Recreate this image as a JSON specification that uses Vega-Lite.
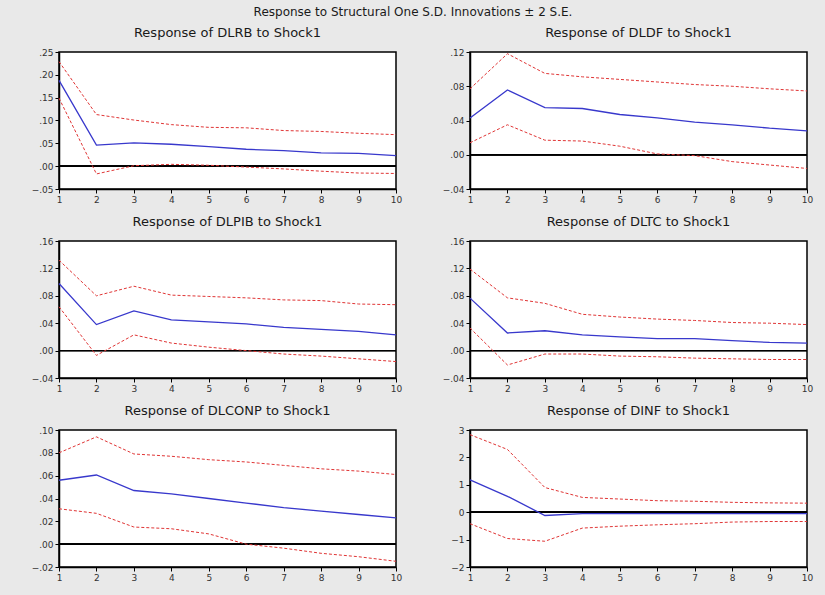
{
  "$schema": "https://vega.github.io/schema/vega-lite/v6.json",
  "autosize": {"type": "pad"},
  "padding": {"left": 30, "top": 6, "right": 12, "bottom": 14},
  "background": "#e9e9e9",
  "bounds": "flush",
  "columns": 2,
  "spacing": {"row": 52, "column": 74},
  "title": {"text": "Response to Structural One S.D. Innovations ± 2 S.E.", "anchor": "middle", "frame": "group", "dx": 354, "fontSize": 12, "fontWeight": "normal", "font": "DejaVu Sans", "color": "#1a1a1a", "offset": 7},
  "config": {
    "font": "DejaVu Sans",
    "view": {"stroke": "#000", "strokeWidth": 1.5, "fill": "white"},
    "title": {"fontSize": 13, "fontWeight": "normal", "color": "#1a1a1a", "offset": 8},
    "axis": {"grid": false, "title": null, "labelFontSize": 9, "labelColor": "#333", "labelOverlap": false, "labelBound": false, "labelFlush": false, "tickColor": "#000", "domainColor": "#000", "domainWidth": 1.5, "tickSize": 4, "labelPadding": 2}
  },
  "datasets": {
    "irf": [
      {"panel": "DLRB", "step": 1, "resp": 0.188, "upper": 0.229, "lower": 0.149},
      {"panel": "DLRB", "step": 2, "resp": 0.046, "upper": 0.113, "lower": -0.017},
      {"panel": "DLRB", "step": 3, "resp": 0.051, "upper": 0.101, "lower": 0.001},
      {"panel": "DLRB", "step": 4, "resp": 0.048, "upper": 0.091, "lower": 0.004},
      {"panel": "DLRB", "step": 5, "resp": 0.043, "upper": 0.085, "lower": 0.002},
      {"panel": "DLRB", "step": 6, "resp": 0.037, "upper": 0.084, "lower": -0.002},
      {"panel": "DLRB", "step": 7, "resp": 0.034, "upper": 0.078, "lower": -0.006},
      {"panel": "DLRB", "step": 8, "resp": 0.029, "upper": 0.076, "lower": -0.011},
      {"panel": "DLRB", "step": 9, "resp": 0.028, "upper": 0.072, "lower": -0.015},
      {"panel": "DLRB", "step": 10, "resp": 0.023, "upper": 0.069, "lower": -0.016},
      {"panel": "DLDF", "step": 1, "resp": 0.043, "upper": 0.077, "lower": 0.014},
      {"panel": "DLDF", "step": 2, "resp": 0.0757, "upper": 0.118, "lower": 0.035},
      {"panel": "DLDF", "step": 3, "resp": 0.055, "upper": 0.095, "lower": 0.017},
      {"panel": "DLDF", "step": 4, "resp": 0.054, "upper": 0.091, "lower": 0.016},
      {"panel": "DLDF", "step": 5, "resp": 0.047, "upper": 0.088, "lower": 0.010},
      {"panel": "DLDF", "step": 6, "resp": 0.043, "upper": 0.085, "lower": 0.001},
      {"panel": "DLDF", "step": 7, "resp": 0.038, "upper": 0.082, "lower": -0.001},
      {"panel": "DLDF", "step": 8, "resp": 0.035, "upper": 0.080, "lower": -0.008},
      {"panel": "DLDF", "step": 9, "resp": 0.031, "upper": 0.077, "lower": -0.012},
      {"panel": "DLDF", "step": 10, "resp": 0.028, "upper": 0.0745, "lower": -0.016},
      {"panel": "DLPIB", "step": 1, "resp": 0.098, "upper": 0.132, "lower": 0.064},
      {"panel": "DLPIB", "step": 2, "resp": 0.038, "upper": 0.080, "lower": -0.007},
      {"panel": "DLPIB", "step": 3, "resp": 0.058, "upper": 0.094, "lower": 0.023},
      {"panel": "DLPIB", "step": 4, "resp": 0.045, "upper": 0.081, "lower": 0.011},
      {"panel": "DLPIB", "step": 5, "resp": 0.042, "upper": 0.079, "lower": 0.005},
      {"panel": "DLPIB", "step": 6, "resp": 0.039, "upper": 0.077, "lower": 0.000},
      {"panel": "DLPIB", "step": 7, "resp": 0.034, "upper": 0.074, "lower": -0.005},
      {"panel": "DLPIB", "step": 8, "resp": 0.031, "upper": 0.073, "lower": -0.008},
      {"panel": "DLPIB", "step": 9, "resp": 0.028, "upper": 0.068, "lower": -0.012},
      {"panel": "DLPIB", "step": 10, "resp": 0.023, "upper": 0.067, "lower": -0.016},
      {"panel": "DLTC", "step": 1, "resp": 0.0766, "upper": 0.119, "lower": 0.033},
      {"panel": "DLTC", "step": 2, "resp": 0.0257, "upper": 0.077, "lower": -0.021},
      {"panel": "DLTC", "step": 3, "resp": 0.029, "upper": 0.069, "lower": -0.005},
      {"panel": "DLTC", "step": 4, "resp": 0.023, "upper": 0.053, "lower": -0.005},
      {"panel": "DLTC", "step": 5, "resp": 0.020, "upper": 0.049, "lower": -0.008},
      {"panel": "DLTC", "step": 6, "resp": 0.0175, "upper": 0.046, "lower": -0.009},
      {"panel": "DLTC", "step": 7, "resp": 0.0175, "upper": 0.044, "lower": -0.011},
      {"panel": "DLTC", "step": 8, "resp": 0.0145, "upper": 0.041, "lower": -0.012},
      {"panel": "DLTC", "step": 9, "resp": 0.012, "upper": 0.040, "lower": -0.013},
      {"panel": "DLTC", "step": 10, "resp": 0.011, "upper": 0.038, "lower": -0.013},
      {"panel": "DLCONP", "step": 1, "resp": 0.056, "upper": 0.080, "lower": 0.031},
      {"panel": "DLCONP", "step": 2, "resp": 0.0606, "upper": 0.094, "lower": 0.027},
      {"panel": "DLCONP", "step": 3, "resp": 0.047, "upper": 0.079, "lower": 0.015},
      {"panel": "DLCONP", "step": 4, "resp": 0.044, "upper": 0.077, "lower": 0.0135},
      {"panel": "DLCONP", "step": 5, "resp": 0.040, "upper": 0.074, "lower": 0.009},
      {"panel": "DLCONP", "step": 6, "resp": 0.036, "upper": 0.072, "lower": 0.000},
      {"panel": "DLCONP", "step": 7, "resp": 0.032, "upper": 0.069, "lower": -0.0035},
      {"panel": "DLCONP", "step": 8, "resp": 0.029, "upper": 0.066, "lower": -0.008},
      {"panel": "DLCONP", "step": 9, "resp": 0.026, "upper": 0.064, "lower": -0.011},
      {"panel": "DLCONP", "step": 10, "resp": 0.023, "upper": 0.061, "lower": -0.015},
      {"panel": "DINF", "step": 1, "resp": 1.18, "upper": 2.83, "lower": -0.42},
      {"panel": "DINF", "step": 2, "resp": 0.58, "upper": 2.29, "lower": -0.96},
      {"panel": "DINF", "step": 3, "resp": -0.12, "upper": 0.90, "lower": -1.06},
      {"panel": "DINF", "step": 4, "resp": -0.05, "upper": 0.54, "lower": -0.58},
      {"panel": "DINF", "step": 5, "resp": -0.05, "upper": 0.48, "lower": -0.51},
      {"panel": "DINF", "step": 6, "resp": -0.05, "upper": 0.42, "lower": -0.46},
      {"panel": "DINF", "step": 7, "resp": -0.05, "upper": 0.40, "lower": -0.42},
      {"panel": "DINF", "step": 8, "resp": -0.05, "upper": 0.36, "lower": -0.36},
      {"panel": "DINF", "step": 9, "resp": -0.05, "upper": 0.34, "lower": -0.34},
      {"panel": "DINF", "step": 10, "resp": -0.05, "upper": 0.33, "lower": -0.34}
    ]
  },
  "concat": [
    {
      "title": "Response of DLRB to Shock1",
      "width": 337, "height": 137,
      "data": {"name": "irf"},
      "transform": [{"filter": "datum.panel === 'DLRB'"}],
      "encoding": {"x": {"field": "step", "type": "quantitative", "scale": {"domain": [1, 10], "nice": false}, "axis": {"values": [1,2,3,4,5,6,7,8,9,10], "tickCount": 20, "format": "d", "labelFlush": false, "labelOverlap": false}}},
      "layer": [
        {"mark": {"type": "rule", "color": "#000", "strokeWidth": 1}, "encoding": {"y": {"datum": 0}, "x": null}},
        {"mark": {"type": "line", "color": "#e03535", "strokeWidth": 1, "strokeDash": [3, 2]}, "encoding": {"y": {"field": "upper", "type": "quantitative", "scale": {"domain": [-0.05, 0.25], "nice": false}, "axis": {"values": [-0.05, 0, 0.05, 0.1, 0.15, 0.2, 0.25], "tickCount": 20, "labelOverlap": false, "labelExpr": "replace(format(datum.value, '.2f'), '0.', '.')"}}}},
        {"mark": {"type": "line", "color": "#e03535", "strokeWidth": 1, "strokeDash": [3, 2]}, "encoding": {"y": {"field": "lower", "type": "quantitative"}}},
        {"mark": {"type": "line", "color": "#3838cc", "strokeWidth": 1.3}, "encoding": {"y": {"field": "resp", "type": "quantitative"}}}
      ]
    },
    {
      "title": "Response of DLDF to Shock1",
      "width": 337, "height": 137,
      "data": {"name": "irf"},
      "transform": [{"filter": "datum.panel === 'DLDF'"}],
      "encoding": {"x": {"field": "step", "type": "quantitative", "scale": {"domain": [1, 10], "nice": false}, "axis": {"values": [1,2,3,4,5,6,7,8,9,10], "tickCount": 20, "format": "d", "labelFlush": false, "labelOverlap": false}}},
      "layer": [
        {"mark": {"type": "rule", "color": "#000", "strokeWidth": 1}, "encoding": {"y": {"datum": 0}, "x": null}},
        {"mark": {"type": "line", "color": "#e03535", "strokeWidth": 1, "strokeDash": [3, 2]}, "encoding": {"y": {"field": "upper", "type": "quantitative", "scale": {"domain": [-0.04, 0.12], "nice": false}, "axis": {"values": [-0.04, 0, 0.04, 0.08, 0.12], "tickCount": 20, "labelOverlap": false, "labelExpr": "replace(format(datum.value, '.2f'), '0.', '.')"}}}},
        {"mark": {"type": "line", "color": "#e03535", "strokeWidth": 1, "strokeDash": [3, 2]}, "encoding": {"y": {"field": "lower", "type": "quantitative"}}},
        {"mark": {"type": "line", "color": "#3838cc", "strokeWidth": 1.3}, "encoding": {"y": {"field": "resp", "type": "quantitative"}}}
      ]
    },
    {
      "title": "Response of DLPIB to Shock1",
      "width": 337, "height": 137,
      "data": {"name": "irf"},
      "transform": [{"filter": "datum.panel === 'DLPIB'"}],
      "encoding": {"x": {"field": "step", "type": "quantitative", "scale": {"domain": [1, 10], "nice": false}, "axis": {"values": [1,2,3,4,5,6,7,8,9,10], "tickCount": 20, "format": "d", "labelFlush": false, "labelOverlap": false}}},
      "layer": [
        {"mark": {"type": "rule", "color": "#000", "strokeWidth": 1}, "encoding": {"y": {"datum": 0}, "x": null}},
        {"mark": {"type": "line", "color": "#e03535", "strokeWidth": 1, "strokeDash": [3, 2]}, "encoding": {"y": {"field": "upper", "type": "quantitative", "scale": {"domain": [-0.04, 0.16], "nice": false}, "axis": {"values": [-0.04, 0, 0.04, 0.08, 0.12, 0.16], "tickCount": 20, "labelOverlap": false, "labelExpr": "replace(format(datum.value, '.2f'), '0.', '.')"}}}},
        {"mark": {"type": "line", "color": "#e03535", "strokeWidth": 1, "strokeDash": [3, 2]}, "encoding": {"y": {"field": "lower", "type": "quantitative"}}},
        {"mark": {"type": "line", "color": "#3838cc", "strokeWidth": 1.3}, "encoding": {"y": {"field": "resp", "type": "quantitative"}}}
      ]
    },
    {
      "title": "Response of DLTC to Shock1",
      "width": 337, "height": 137,
      "data": {"name": "irf"},
      "transform": [{"filter": "datum.panel === 'DLTC'"}],
      "encoding": {"x": {"field": "step", "type": "quantitative", "scale": {"domain": [1, 10], "nice": false}, "axis": {"values": [1,2,3,4,5,6,7,8,9,10], "tickCount": 20, "format": "d", "labelFlush": false, "labelOverlap": false}}},
      "layer": [
        {"mark": {"type": "rule", "color": "#000", "strokeWidth": 1}, "encoding": {"y": {"datum": 0}, "x": null}},
        {"mark": {"type": "line", "color": "#e03535", "strokeWidth": 1, "strokeDash": [3, 2]}, "encoding": {"y": {"field": "upper", "type": "quantitative", "scale": {"domain": [-0.04, 0.16], "nice": false}, "axis": {"values": [-0.04, 0, 0.04, 0.08, 0.12, 0.16], "tickCount": 20, "labelOverlap": false, "labelExpr": "replace(format(datum.value, '.2f'), '0.', '.')"}}}},
        {"mark": {"type": "line", "color": "#e03535", "strokeWidth": 1, "strokeDash": [3, 2]}, "encoding": {"y": {"field": "lower", "type": "quantitative"}}},
        {"mark": {"type": "line", "color": "#3838cc", "strokeWidth": 1.3}, "encoding": {"y": {"field": "resp", "type": "quantitative"}}}
      ]
    },
    {
      "title": "Response of DLCONP to Shock1",
      "width": 337, "height": 137,
      "data": {"name": "irf"},
      "transform": [{"filter": "datum.panel === 'DLCONP'"}],
      "encoding": {"x": {"field": "step", "type": "quantitative", "scale": {"domain": [1, 10], "nice": false}, "axis": {"values": [1,2,3,4,5,6,7,8,9,10], "tickCount": 20, "format": "d", "labelFlush": false, "labelOverlap": false}}},
      "layer": [
        {"mark": {"type": "rule", "color": "#000", "strokeWidth": 1}, "encoding": {"y": {"datum": 0}, "x": null}},
        {"mark": {"type": "line", "color": "#e03535", "strokeWidth": 1, "strokeDash": [3, 2]}, "encoding": {"y": {"field": "upper", "type": "quantitative", "scale": {"domain": [-0.02, 0.10], "nice": false}, "axis": {"values": [-0.02, 0, 0.02, 0.04, 0.06, 0.08, 0.10], "tickCount": 20, "labelOverlap": false, "labelExpr": "replace(format(datum.value, '.2f'), '0.', '.')"}}}},
        {"mark": {"type": "line", "color": "#e03535", "strokeWidth": 1, "strokeDash": [3, 2]}, "encoding": {"y": {"field": "lower", "type": "quantitative"}}},
        {"mark": {"type": "line", "color": "#3838cc", "strokeWidth": 1.3}, "encoding": {"y": {"field": "resp", "type": "quantitative"}}}
      ]
    },
    {
      "title": "Response of DINF to Shock1",
      "width": 337, "height": 137,
      "data": {"name": "irf"},
      "transform": [{"filter": "datum.panel === 'DINF'"}],
      "encoding": {"x": {"field": "step", "type": "quantitative", "scale": {"domain": [1, 10], "nice": false}, "axis": {"values": [1,2,3,4,5,6,7,8,9,10], "tickCount": 20, "format": "d", "labelFlush": false, "labelOverlap": false}}},
      "layer": [
        {"mark": {"type": "rule", "color": "#000", "strokeWidth": 1}, "encoding": {"y": {"datum": 0}, "x": null}},
        {"mark": {"type": "line", "color": "#e03535", "strokeWidth": 1, "strokeDash": [3, 2]}, "encoding": {"y": {"field": "upper", "type": "quantitative", "scale": {"domain": [-2, 3], "nice": false}, "axis": {"values": [-2, -1, 0, 1, 2, 3], "tickCount": 20, "labelOverlap": false, "format": "d"}}}},
        {"mark": {"type": "line", "color": "#e03535", "strokeWidth": 1, "strokeDash": [3, 2]}, "encoding": {"y": {"field": "lower", "type": "quantitative"}}},
        {"mark": {"type": "line", "color": "#3838cc", "strokeWidth": 1.3}, "encoding": {"y": {"field": "resp", "type": "quantitative"}}}
      ]
    }
  ]
}
